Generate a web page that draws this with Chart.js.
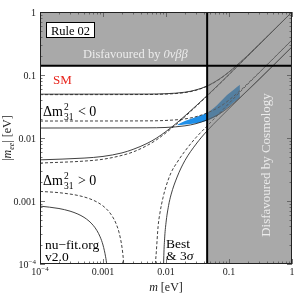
<!DOCTYPE html>
<html>
<head>
<meta charset="utf-8">
<script src="https://cdn.jsdelivr.net/npm/chart.js@4.4.0/dist/chart.umd.min.js"></script>
<style>
  html, body { margin: 0; padding: 0; background: #fff; }
</style>
</head>
<body>
<canvas id="mee" width="294" height="294"></canvas>
<script>
const SERIF = '"Liberation Serif", "DejaVu Serif", serif';

// axis range and decade ticks (both axes in eV)
const axisMin = 1e-4;
const axisMax = 1;
const tickValues = [1e-4, 0.001, 0.01, 0.1, 1];
const xTickLabels = ['10^-4', '0.001', '0.01', '0.1', '1'];
const yTickLabels = ['10^-4', '0.001', '0.01', '0.1', '1'];

// excluded regions
const cosmoBound = 0.045; // lightest mass above this: cosmology
const bbBound = 0.14;     // |m_ee| above this: 0vbb

// inverted ordering, dm31^2 < 0
const ihM         = [0.0001, 0.005, 0.01, 0.02, 0.03, 0.045, 0.07, 0.1, 0.15, 0.2, 0.3, 0.5, 1];
const ihUpper3s   = [0.0496, 0.0498, 0.0505, 0.0533, 0.0580, 0.0670, 0.0860, 0.1120, 0.1585, 0.2065, 0.3045, 0.5025, 1.0];
const ihUpperBest = [0.0488, 0.0490, 0.0498, 0.0526, 0.0573, 0.0663, 0.0853, 0.1113, 0.1578, 0.2058, 0.3038, 0.5018, 0.998];
const ihLower3s   = [0.0144, 0.0145, 0.0147, 0.0156, 0.0169, 0.0194, 0.0240, 0.0310, 0.0438, 0.0573, 0.0845, 0.140, 0.279];
const ihLowerBest = [0.0186, 0.0187, 0.0190, 0.0201, 0.0218, 0.0250, 0.0310, 0.0400, 0.0565, 0.0740, 0.1090, 0.181, 0.360];

// normal ordering, dm31^2 > 0 : upper edge
const nhUpM       = [0.0001, 0.0005, 0.001, 0.002, 0.003, 0.005, 0.007, 0.01, 0.015, 0.02, 0.03, 0.045, 0.07, 0.1, 0.2, 0.5, 1];
const nhUpper3s   = [0.0045, 0.0048, 0.0051, 0.0058, 0.0066, 0.0082, 0.0099, 0.0127, 0.0175, 0.0225, 0.0324, 0.0472, 0.0720, 0.102, 0.202, 0.502, 1.0];
const nhUpperBest = [0.0040, 0.0043, 0.0046, 0.0053, 0.0060, 0.0076, 0.0093, 0.0121, 0.0169, 0.0218, 0.0317, 0.0465, 0.0712, 0.101, 0.201, 0.501, 1.0];

// normal ordering lower edge, left of the cancellation
const nhLowL3sM   = [0.0001, 0.0002, 0.0003, 0.0004, 0.0005, 0.0006, 0.0007, 0.0008, 0.0009, 0.001, 0.0011, 0.00115, 0.0012];
const nhLowL3s    = [0.00083, 0.00076, 0.00069, 0.00062, 0.00055, 0.00048, 0.00041, 0.00034, 0.00027, 0.00020, 0.00013, 0.000095, 0.00006];
const nhLowLBestM = [0.0001, 0.0002, 0.0004, 0.0006, 0.0008, 0.001, 0.0012, 0.0014, 0.0016, 0.0018, 0.002, 0.0021, 0.0022];
const nhLowLBest  = [0.00142, 0.001355, 0.001225, 0.001095, 0.000965, 0.000835, 0.000705, 0.000575, 0.000445, 0.000315, 0.000185, 0.00012, 0.000055];

// normal ordering lower edge, right of the cancellation
const nhLowR3sM   = [0.0090, 0.0092, 0.0095, 0.01, 0.011, 0.012, 0.015, 0.02, 0.03, 0.045, 0.07, 0.1, 0.2, 0.5, 1];
const nhLowR3s    = [0.00004, 0.00012, 0.00025, 0.00045, 0.00085, 0.00125, 0.0024, 0.0044, 0.0080, 0.0130, 0.0205, 0.0292, 0.058, 0.141, 0.28];
const nhLowRBestM = [0.0066, 0.0068, 0.007, 0.0075, 0.008, 0.009, 0.01, 0.012, 0.015, 0.02, 0.03, 0.045, 0.07, 0.1, 0.2, 0.5, 1];
const nhLowRBest  = [0.00004, 0.00010, 0.00015, 0.00040, 0.00064, 0.00115, 0.0017, 0.0028, 0.0041, 0.0062, 0.0102, 0.0155, 0.0245, 0.0355, 0.072, 0.18, 0.36];

// Rule 02 prediction band
const bandM    = [0.0151, 0.02, 0.03, 0.045, 0.065, 0.093, 0.12, 0.149];
const bandHigh = [0.0163, 0.0186, 0.0216, 0.0252, 0.0335, 0.048, 0.059, 0.070];
const bandLow  = [0.0159, 0.0164, 0.0172, 0.0188, 0.0225, 0.030, 0.037, 0.043];

function pts(xs, ys) {
  return xs.map((x, i) => ({ x: x, y: ys[i] }));
}

function curve(xs, ys, dashed) {
  return {
    data: pts(xs, ys),
    showLine: true,
    borderColor: '#2b2b2b',
    borderWidth: 0.9,
    borderDash: dashed ? [3, 2] : [],
    pointRadius: 0,
    cubicInterpolationMode: 'monotone',
    fill: false
  };
}

// draws pieces of text one after another: [text, font, dy]
function richText(ctx, parts, x, y, align) {
  let w = 0;
  parts.forEach(p => { ctx.font = p[1]; w += ctx.measureText(p[0]).width; });
  let cx = x;
  if (align === 'center') cx = x - w / 2;
  if (align === 'right') cx = x - w;
  ctx.textAlign = 'left';
  parts.forEach(p => {
    ctx.font = p[1];
    ctx.fillText(p[0], cx, y + (p[2] || 0));
    cx += ctx.measureText(p[0]).width;
  });
}

function tickParts(label) {
  if (label.indexOf('^') >= 0) {
    const s = label.split('^');
    return [[s[0], '10px ' + SERIF, 0], ['\u2212' + s[1].replace('-', ''), '7px ' + SERIF, -4]];
  }
  return [[label, '10px ' + SERIF, 0]];
}

// dm31^2 label with stacked sup/sub
function dmLabel(ctx, x, y, rel) {
  ctx.fillStyle = '#000';
  ctx.textAlign = 'left';
  ctx.font = '14px ' + SERIF;
  ctx.fillText('\u0394m', x, y);
  const sx = x + ctx.measureText('\u0394m').width + 1;
  ctx.font = '9.5px ' + SERIF;
  ctx.fillText('2', sx, y - 6);
  ctx.fillText('31', sx, y + 4);
  ctx.font = '14px ' + SERIF;
  ctx.fillText(rel + ' 0', sx + 14, y);
}

const decorPlugin = {
  id: 'decor',
  afterDatasetsDraw(chart) {
    const { ctx, chartArea: a, scales: { x, y } } = chart;
    const xc = x.getPixelForValue(cosmoBound);
    const yb = y.getPixelForValue(bbBound);
    ctx.save();

    // grey excluded regions, one fill so the overlap is painted once
    ctx.fillStyle = 'rgba(117,117,117,0.625)';
    ctx.beginPath();
    ctx.rect(a.left, a.top, a.right - a.left, yb - a.top);
    ctx.rect(xc, a.top, a.right - xc, a.bottom - a.top);
    ctx.fill();

    // inner ticks on all four sides
    ctx.strokeStyle = '#555';
    ctx.lineWidth = 0.8;
    ctx.beginPath();
    for (let d = axisMin; d < axisMax * 1.01; d *= 10) {
      for (let k = 1; k <= 9; k++) {
        const v = k * d;
        if (v > axisMax * 1.0001) break;
        const len = k === 1 ? 5 : 2.5;
        const px = Math.round(x.getPixelForValue(v)) + 0.5;
        const py = Math.round(y.getPixelForValue(v)) + 0.5;
        ctx.moveTo(px, a.bottom); ctx.lineTo(px, a.bottom - len);
        ctx.moveTo(px, a.top); ctx.lineTo(px, a.top + len);
        ctx.moveTo(a.left, py); ctx.lineTo(a.left + len, py);
        ctx.moveTo(a.right, py); ctx.lineTo(a.right - len, py);
      }
    }
    ctx.stroke();

    // bounds
    ctx.strokeStyle = '#000';
    ctx.lineWidth = 2;
    ctx.beginPath();
    ctx.moveTo(a.left, yb); ctx.lineTo(a.right, yb);
    ctx.moveTo(xc, a.top); ctx.lineTo(xc, a.bottom);
    ctx.stroke();

    // frame
    ctx.strokeStyle = '#222';
    ctx.lineWidth = 1;
    ctx.strokeRect(a.left + 0.5, a.top + 0.5, a.right - a.left - 1, a.bottom - a.top - 1);

    // tick labels
    ctx.fillStyle = '#222';
    tickValues.forEach((v, i) => {
      richText(ctx, tickParts(xTickLabels[i]), x.getPixelForValue(v), a.bottom + 10.5, 'center');
      richText(ctx, tickParts(yTickLabels[i]), a.left - 4, y.getPixelForValue(v) + 3.5, 'right');
    });

    // axis titles
    ctx.fillStyle = '#222';
    richText(ctx, [['m', 'italic 12px ' + SERIF, 0], [' [eV]', '12px ' + SERIF, 0]],
      (a.left + a.right) / 2, 291, 'center');
    ctx.save();
    ctx.translate(11, (a.top + a.bottom) / 2);
    ctx.rotate(-Math.PI / 2);
    richText(ctx, [['|', '12px ' + SERIF, 0], ['m', 'italic 12px ' + SERIF, 0], ['ee', 'italic 8px ' + SERIF, 2.5],
      ['| [eV]', '12px ' + SERIF, 0]], 0, 0, 'center');
    ctx.restore();

    // Rule box
    ctx.fillStyle = '#fff';
    ctx.fillRect(a.left + 6.5, a.top + 10.5, 48, 15);
    ctx.strokeStyle = '#000';
    ctx.lineWidth = 1;
    ctx.strokeRect(a.left + 6.5, a.top + 10.5, 48, 15);
    ctx.fillStyle = '#000';
    ctx.textAlign = 'center';
    ctx.font = '12.5px ' + SERIF;
    ctx.fillText('Rule 02', a.left + 30.5, a.top + 22.5);

    // excluded region labels
    ctx.fillStyle = '#ececec';
    richText(ctx, [['Disfavoured by ', '12.5px ' + SERIF, 0], ['0\u03BD\u03B2\u03B2', 'italic 12.5px ' + SERIF, 0]],
      a.left + 43, a.top + 46, 'left');
    ctx.save();
    ctx.translate(270, 165);
    ctx.rotate(-Math.PI / 2);
    richText(ctx, [['Disfavoured by Cosmology', '13px ' + SERIF, 0]], 0, 0, 'center');
    ctx.restore();

    ctx.fillStyle = '#e8241c';
    ctx.font = '13px ' + SERIF;
    ctx.textAlign = 'left';
    ctx.fillText('SM', a.left + 13, a.top + 72);

    dmLabel(ctx, a.left + 3, a.top + 104, '<');
    dmLabel(ctx, a.left + 3, a.top + 173, '>');

    ctx.fillStyle = '#000';
    ctx.font = '13.5px ' + SERIF;
    ctx.textAlign = 'left';
    ctx.fillText('nu\u2212fit.org', a.left + 5, 249);
    ctx.fillText('v2.0', a.left + 5, 261);
    ctx.fillText('Best', 166, 248);
    richText(ctx, [['& 3', '13.5px ' + SERIF, 0], ['\u03C3', 'italic 13.5px ' + SERIF, 0]], 166, 260, 'left');

    ctx.restore();
  }
};

const datasets = [
  curve(ihM, ihUpper3s, false),
  curve(ihM, ihUpperBest, true),
  curve(ihM, ihLower3s, false),
  curve(ihM, ihLowerBest, true),
  curve(nhUpM, nhUpper3s, false),
  curve(nhUpM, nhUpperBest, true),
  curve(nhLowL3sM, nhLowL3s, false),
  curve(nhLowLBestM, nhLowLBest, true),
  curve(nhLowR3sM, nhLowR3s, false),
  curve(nhLowRBestM, nhLowRBest, true),
  {
    data: pts(bandM, bandLow),
    showLine: true, borderWidth: 0, pointRadius: 0, fill: false,
    cubicInterpolationMode: 'monotone'
  },
  {
    data: pts(bandM, bandHigh),
    showLine: true, borderWidth: 0, pointRadius: 0,
    cubicInterpolationMode: 'monotone',
    fill: '-1',
    backgroundColor: '#1f8fe8'
  }
];

new Chart(document.getElementById('mee'), {
  type: 'scatter',
  data: { datasets: datasets },
  options: {
    responsive: false,
    animation: false,
    devicePixelRatio: 1,
    layout: { padding: { top: 12, right: 2, left: 0, bottom: 0 } },
    plugins: { legend: { display: false }, tooltip: { enabled: false } },
    scales: {
      x: {
        type: 'logarithmic', min: axisMin, max: axisMax,
        ticks: { display: false }, grid: { display: false }, border: { display: false },
        afterFit: s => { s.height = 30; }
      },
      y: {
        type: 'logarithmic', min: axisMin, max: axisMax,
        ticks: { display: false }, grid: { display: false }, border: { display: false },
        afterFit: s => { s.width = 40; }
      }
    }
  },
  plugins: [decorPlugin]
});
</script>
</body>
</html>
